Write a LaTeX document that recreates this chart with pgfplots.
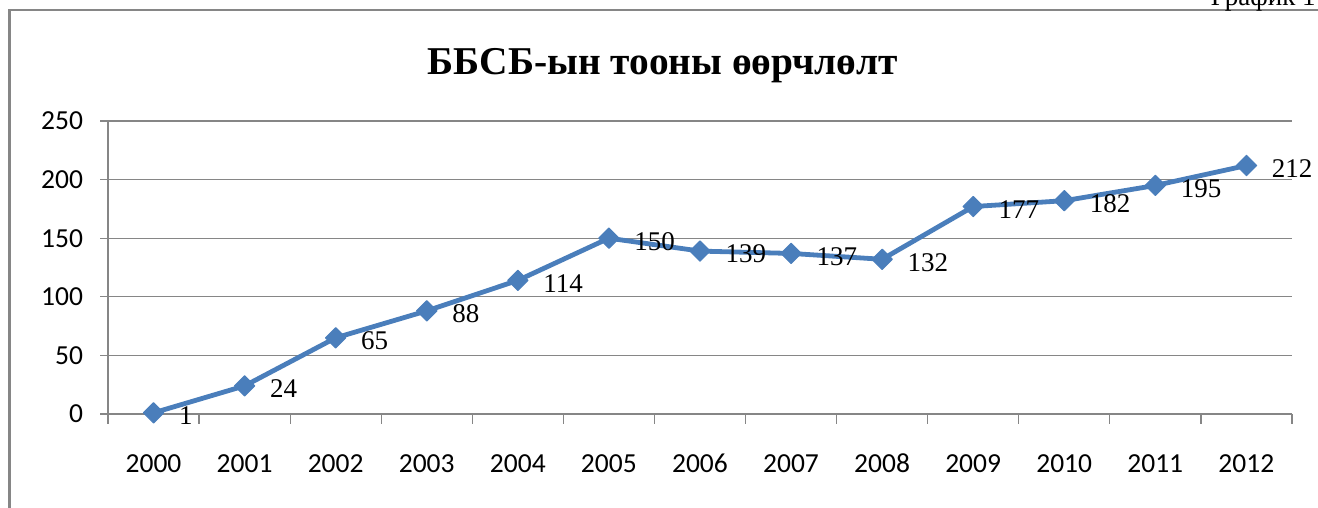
\documentclass[border=0pt]{standalone}
\usepackage{pgfplots}
\pgfplotsset{compat=1.18}
\usepackage{fontspec}
\setmainfont{Liberation Serif}
\newfontfamily\calibri{Carlito}
\definecolor{serblue}{RGB}{74,126,187}
\definecolor{gridgray}{RGB}{134,134,134}
\definecolor{framegray}{RGB}{134,134,134}
\begin{document}
\begin{tikzpicture}
\useasboundingbox (0pt,0pt) rectangle (659pt,254pt);
% chart frame (extends beyond the visible region)
\draw[framegray, line width=1.3pt] (4.7pt,-20pt) -- (4.7pt,249pt) -- (700pt,249pt);
\node[anchor=base east, inner sep=0, font=\fontsize{13.5}{16}\selectfont] at (658pt,251pt) {График 1};
\node[anchor=base, inner sep=0, font=\fontsize{19.7}{24}\selectfont\bfseries] at (331.5pt,216.5pt) {ББСБ-ын тооны өөрчлөлт};
\begin{axis}[
  at={(54pt,47pt)}, anchor=south west,
  scale only axis, width=592pt, height=146.5pt,
  xmin=1999.5, xmax=2012.5, ymin=0, ymax=250,
  axis x line*=bottom, axis y line*=left,
  axis line style={gridgray, line width=0.6pt},
  xtick={2000,...,2012}, major x tick style={draw=none},
  minor xtick={1999.5,2000.5,...,2012.5},
  minor x tick style={gridgray, line width=0.6pt},
  minor tick length=5pt,
  ytick={0,50,...,250},
  major tick length=4pt,
  tick align=outside,
  y tick style={gridgray, line width=0.6pt},
  ymajorgrids, grid style={gridgray, line width=0.6pt},
  /pgf/number format/assume math mode=true,
  /pgf/number format/1000 sep={},
  tick label style={font=\calibri\fontsize{13.75}{16}\selectfont, black},
  xticklabel style={yshift=-12.5pt, text height=9pt, text depth=0pt},
  yticklabel style={xshift=-5pt},
  clip=false,
  nodes near coords,
  every node near coord/.append style={anchor=west, xshift=12.5pt, yshift=-1.5pt, inner sep=0pt, font=\fontsize{13.5}{16}\selectfont, black},
]
\addplot[serblue, line width=2.4pt, line join=round, mark=square*, mark size=3.6pt, mark options={rotate=45, fill=serblue, draw=serblue, line width=0.5pt}]
coordinates {
(2000,1) (2001,24) (2002,65) (2003,88) (2004,114) (2005,150) (2006,139)
(2007,137) (2008,132) (2009,177) (2010,182) (2011,195) (2012,212)
};
\end{axis}
\end{tikzpicture}
\end{document}
